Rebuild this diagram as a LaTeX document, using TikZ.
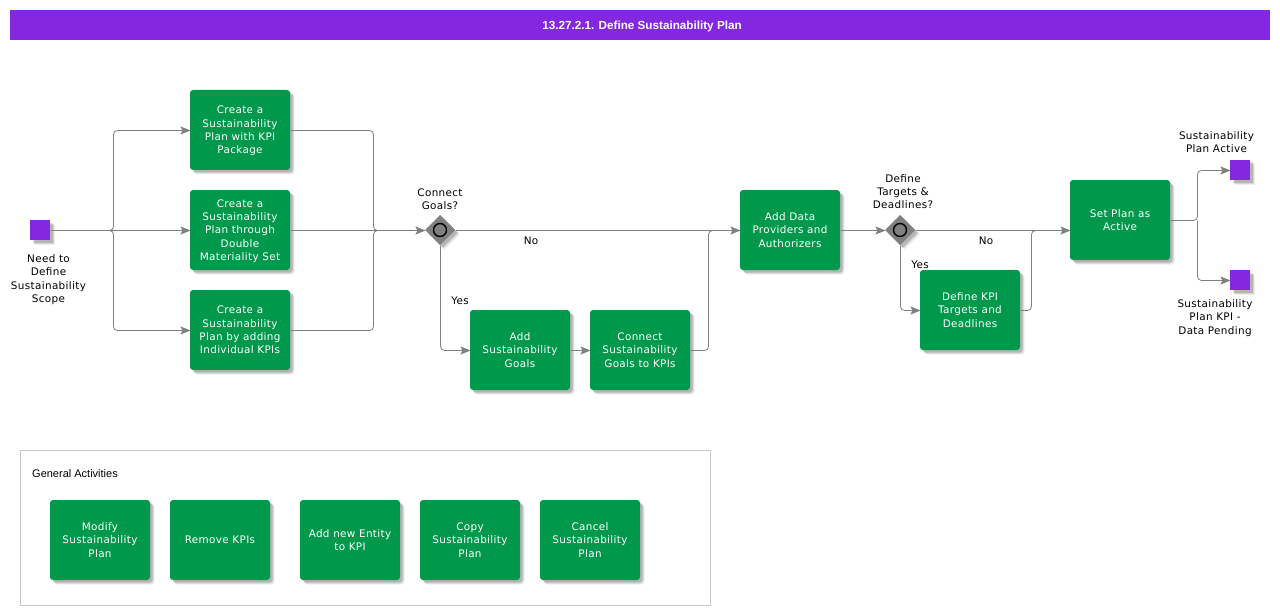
\documentclass[tikz,border=0pt]{standalone}
\usepackage{fontspec}
\setmainfont[LetterSpace=3.4]{DejaVu Sans}
\newfontfamily\arialfont{Liberation Sans}
\usetikzlibrary{arrows.meta,positioning,shapes.geometric,shadows}
\definecolor{taskgreen}{HTML}{00994C}
\definecolor{eventpurple}{HTML}{8427E0}
\definecolor{flowgray}{HTML}{808080}
\definecolor{boxgray}{HTML}{C8C8C8}
\tikzset{
  softshadow/.style={
    drop shadow={shadow xshift=4.5pt,shadow yshift=-4.5pt,fill=black,opacity=.07},
    drop shadow={shadow xshift=3.5pt,shadow yshift=-3.5pt,fill=black,opacity=.1},
    drop shadow={shadow xshift=2.5pt,shadow yshift=-2.5pt,fill=black,opacity=.15}},
  task/.style={rectangle,rounded corners=3pt,fill=taskgreen,text=white,minimum width=100pt,minimum height=80pt,
    inner sep=0pt,outer sep=0pt,align=center,text depth=0pt,font=\fontsize{10.4}{13.3}\selectfont,softshadow},
  event/.style={rectangle,fill=eventpurple,minimum size=20pt,inner sep=0pt,outer sep=0pt,softshadow},
  gateway/.style={diamond,fill=flowgray,minimum size=30pt,inner sep=0pt,outer sep=0pt,softshadow},
  gatemark/.style={circle,draw=black,line width=1.4pt,fill=flowgray,minimum size=13pt,inner sep=0pt},
  caption/.style={align=center,inner sep=0pt,text=black,font=\fontsize{10.4}{13.3}\selectfont},
  flowline/.style={draw=flowgray,line width=.8pt,rounded corners=4pt,transform canvas={xshift=.5pt,yshift=-.5pt}},
  flow/.style={->,flowline}
}
\begin{document}
\begin{tikzpicture}[x=1pt,y=-1pt,>={Stealth[length=10pt,width=8pt,inset=2pt]},node distance=20pt]

    \useasboundingbox (0,0) rectangle (1280,615);

    \node[rectangle,fill=eventpurple,text=white,minimum width=1260pt,minimum height=30pt,inner sep=0pt,outer sep=0pt,text depth=0pt,
          font=\arialfont\bfseries\fontsize{11.7}{14}\selectfont] (title) at (640,25) {\hspace*{4pt}13.27.2.1. Define Sustainability Plan};

    % main flow
    \node[event] (start) at (40,230) {};
    \node[caption] (startlabel) at (48.5,279.5) {Need to\\Define\\Sustainability\\Scope};

    \node[task] (plan2) at (240,230) {Create a\\Sustainability\\Plan through\\Double\\Materiality Set};
    \node[task] (plan1) [above=of plan2] {Create a\\Sustainability\\Plan with KPI\\Package};
    \node[task] (plan3) [below=of plan2] {Create a\\Sustainability\\Plan by adding\\Individual KPIs};

    \node[gateway] (gwgoals) at (440,230) {};
    \node[gatemark] (gwgoalsmark) at (gwgoals) {};
    \node[caption] (gwgoalslabel) at (440,199) {Connect\\Goals?};

    \node[task] (addgoals) at (520,350) {Add\\Sustainability\\Goals};
    \node[task] (connectgoals) [right=of addgoals] {Connect\\Sustainability\\Goals to KPIs};

    \node[task] (providers) at (790,230) {Add Data\\Providers and\\Authorizers};

    \node[gateway] (gwtargets) at (900,230) {};
    \node[gatemark] (gwtargetsmark) at (gwtargets) {};
    \node[caption] (gwtargetslabel) at (903,191.5) {Define\\Targets \&\\Deadlines?};

    \node[task] (targets) at (970,310) {Define KPI\\Targets and\\Deadlines};
    \node[task] (setactive) at (1120,220) {Set Plan as\\Active};

    \node[event] (endactive) at (1240,170) {};
    \node[caption] (endactivelabel) at (1216.5,142) {Sustainability\\Plan Active};
    \node[event] (endpending) at (1240,280) {};
    \node[caption] (endpendinglabel) at (1215,318) {Sustainability\\Plan KPI -\\Data Pending};

    \node[caption] (nogoals) at (531,240.5) {No};
    \node[caption] (yesgoals) at (460,300.5) {Yes};
    \node[caption] (notargets) at (986,240.5) {No};
    \node[caption] (yestargets) at (920,264.5) {Yes};

    % junctions
    \coordinate (splitin) at (105,230);
    \coordinate (splitstart) at (113,230);
    \coordinate (joinplans) at (373,230);
    \coordinate (joinplansout) at (381,230);
    \coordinate (joingoals) at (708,230);
    \coordinate (joingoalsout) at (716,230);
    \coordinate (jointargets) at (1031,230);
    \coordinate (jointargetsout) at (1039,230);
    \coordinate (splitactive) at (1197,220);

    \draw[flow] (start) -- (plan2);
    \draw[flow] (splitin) -- (splitstart) |- (plan1);
    \draw[flow] (splitin) -- (splitstart) |- (plan3);
    \draw[flowline] (plan1) -| (joinplans) -- (joinplansout);
    \draw[flow] (plan2) -- (gwgoals);
    \draw[flowline] (plan3) -| (joinplans) -- (joinplansout);
    \draw[flow] (gwgoals) -- (providers);
    \draw[flow] (gwgoals) |- (addgoals);
    \draw[flow] (addgoals) -- (connectgoals);
    \draw[flowline] (connectgoals) -| (joingoals) -- (joingoalsout);
    \draw[flow] (providers) -- (gwtargets);
    \draw[flow] (gwtargets) -- (setactive.west |- gwtargets);
    \draw[flow] (gwtargets) |- (targets);
    \draw[flowline] (targets) -| (jointargets) -- (jointargetsout);
    \draw[flow] (setactive) -- (splitactive) |- (endactive);
    \draw[flow] (splitactive) |- (endpending);

    % general activities
    \node[rectangle,draw=boxgray,minimum width=690pt,minimum height=155pt,inner sep=0pt] (genbox) at (365,527.5) {};
    \node[inner sep=0pt,font=\arialfont\fontsize{11}{13}\selectfont] (genlabel) at (75,473.5) {General Activities};

    \node[task] (modify) at (100,540) {Modify\\Sustainability\\Plan};
    \node[task] (remove) [right=of modify] {Remove KPIs};
    \node[task] (addentity) [right=30pt of remove] {Add new Entity\\to KPI};
    \node[task] (copyplan) [right=of addentity] {Copy\\Sustainability\\Plan};
    \node[task] (cancelplan) [right=of copyplan] {Cancel\\Sustainability\\Plan};

\end{tikzpicture}
\end{document}
